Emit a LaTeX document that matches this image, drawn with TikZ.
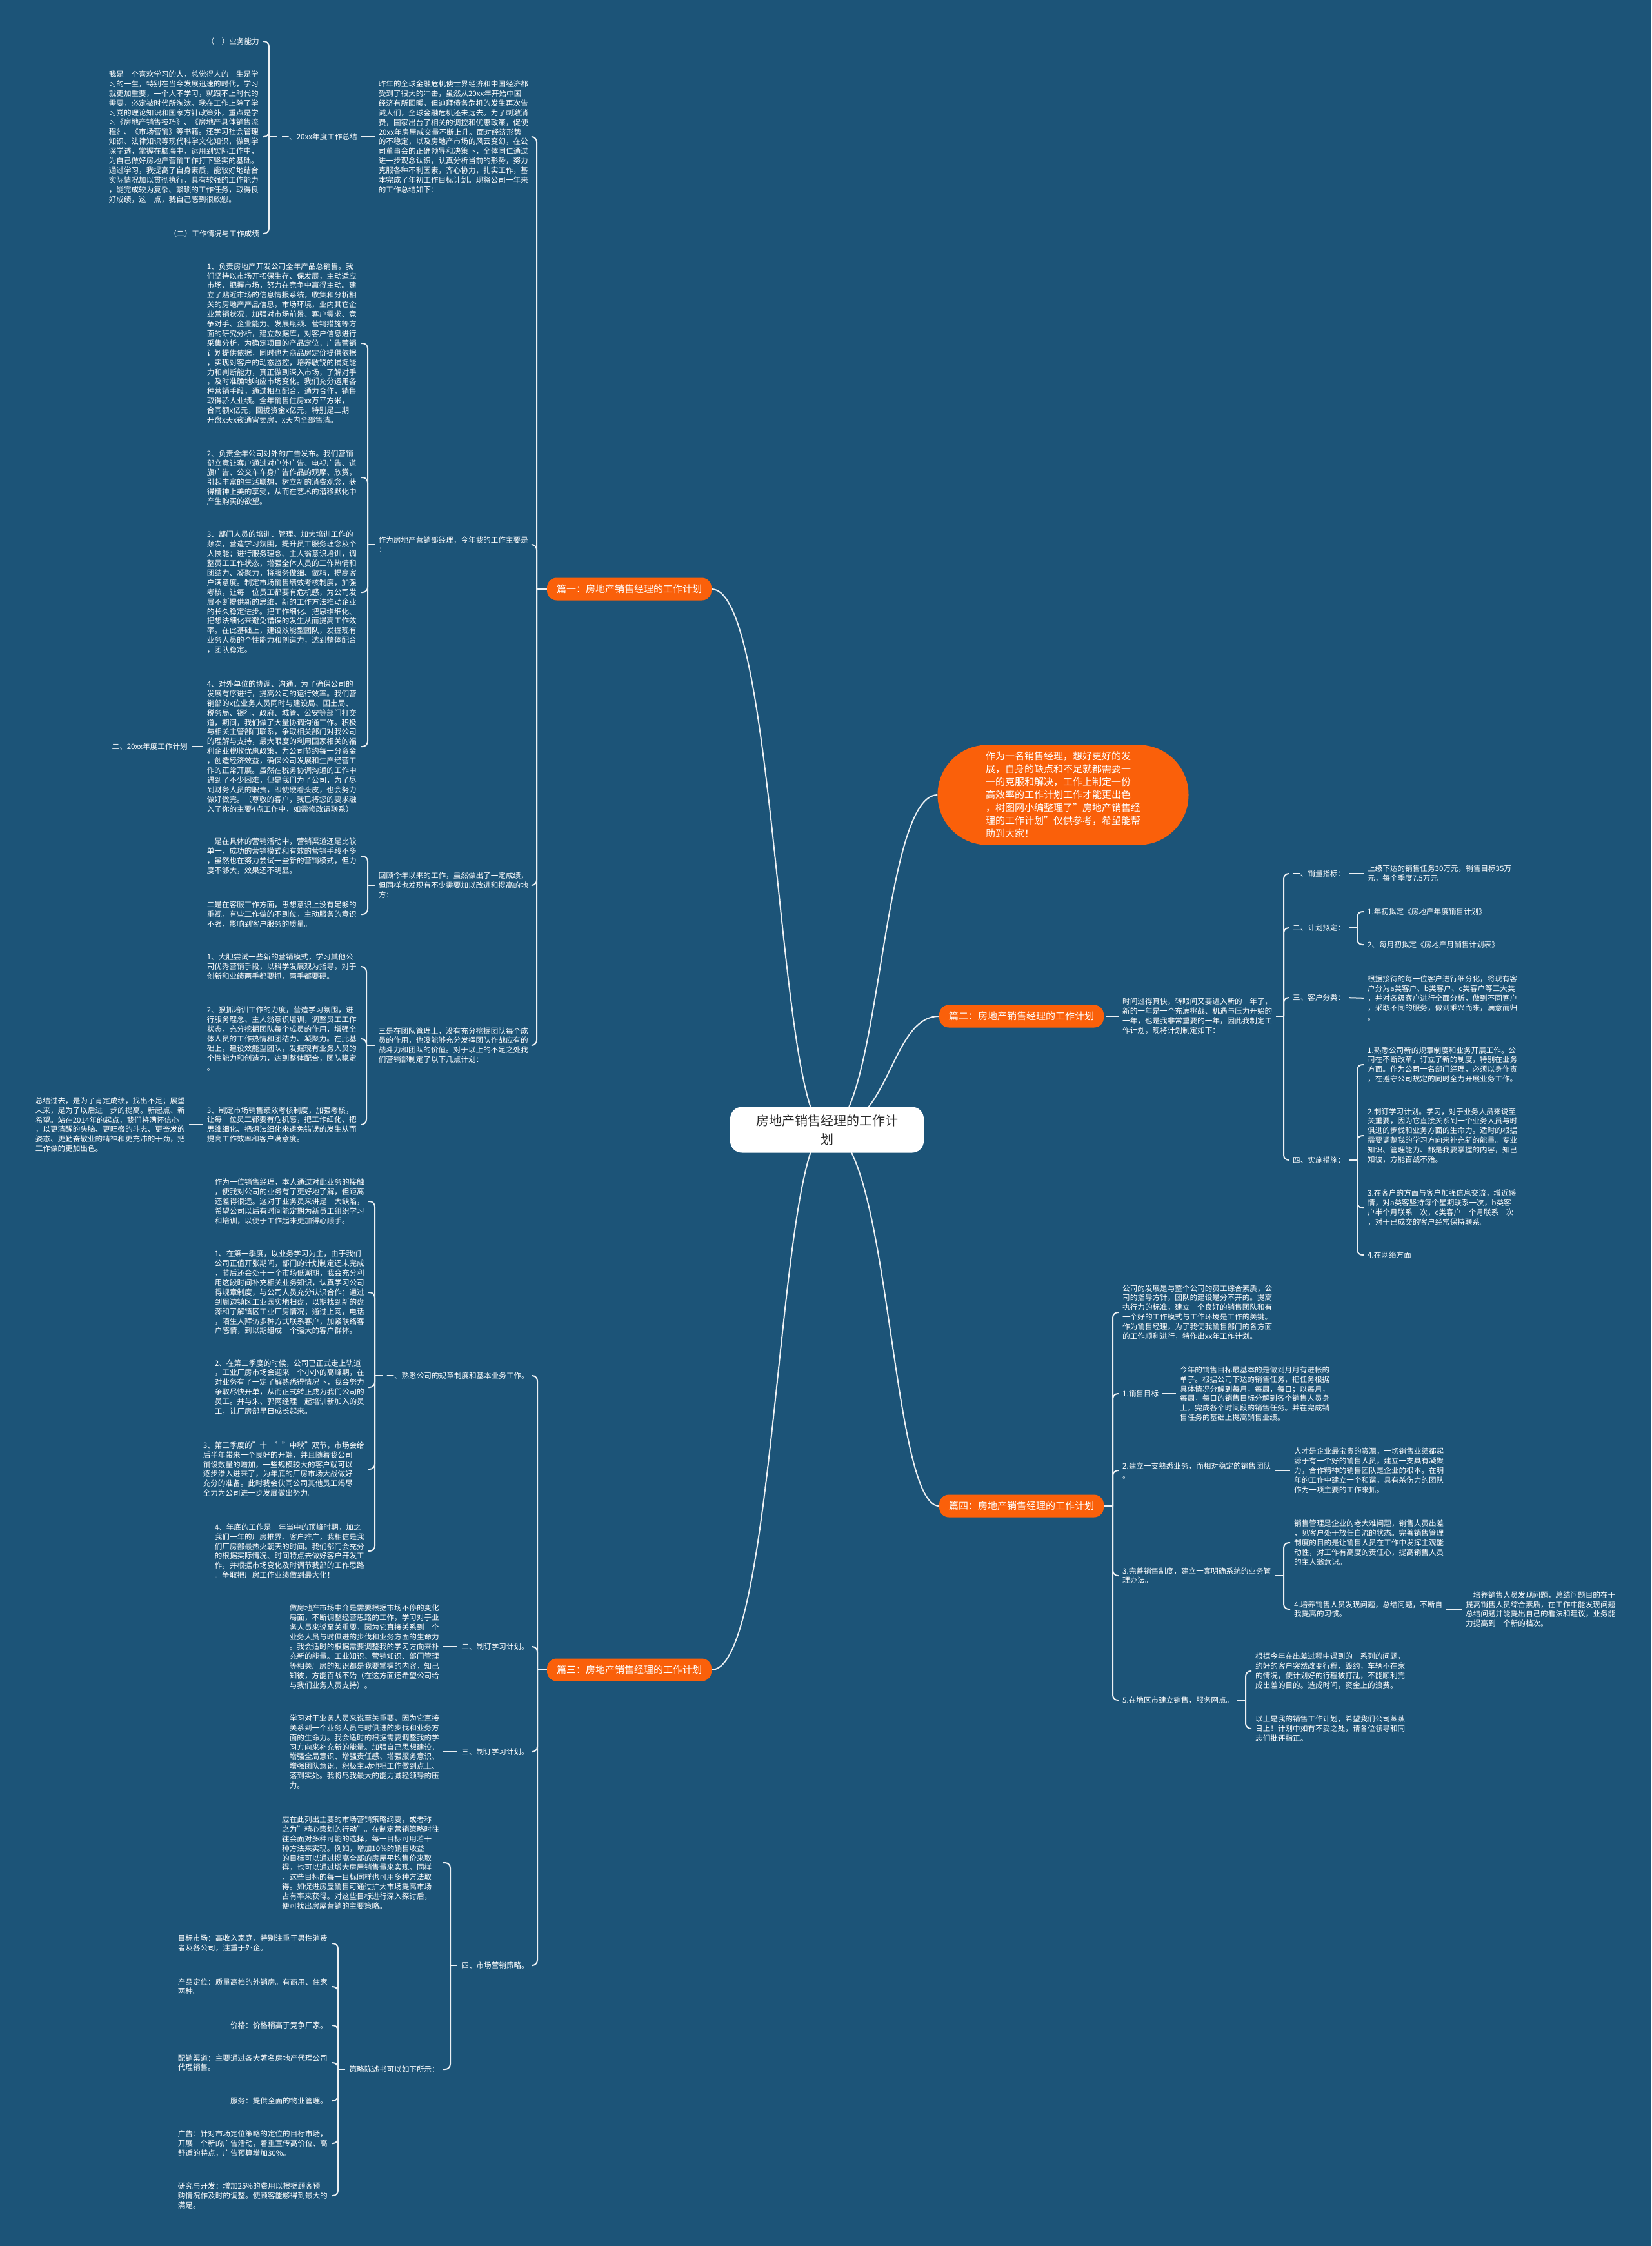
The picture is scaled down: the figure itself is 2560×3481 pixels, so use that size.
\documentclass[tikz,border=0pt]{standalone}
\usepackage{fontspec}
\setmainfont{Noto Sans CJK SC}
\usetikzlibrary{backgrounds}
\definecolor{bgc}{RGB}{28,84,120}
\definecolor{orng}{RGB}{250,96,10}
\definecolor{linec}{RGB}{236,240,243}
\definecolor{roottext}{RGB}{40,40,40}
\begin{document}
\begin{tikzpicture}[x=1pt,y=-1pt,
 txt/.style={inner sep=0pt,align=left,text=white,font=\fontsize{11.6}{14.9}\selectfont},
 L/.style={txt,anchor=east},
 R/.style={txt,anchor=west},
 conn/.style={draw=linec,line width=2pt,rounded corners=8pt},
 ge/.style={shorten >=6pt},
 gs/.style={shorten <=6pt},
 mainbox/.style={fill=orng,rounded corners=15pt,text=white,minimum width=255pt,minimum height=35pt,inner sep=0pt,font=\fontsize{15}{18}\selectfont}]

% ---------- root and callout ----------
\node[fill=white,rounded corners=18pt,minimum width=300pt,minimum height=71pt,inner sep=0pt,text=roottext,align=center,font=\fontsize{20}{29}\selectfont] (root) at (1282,1751) {房地产销售经理的工作计\\划};
\node[fill=orng,rounded corners=77pt,minimum width=389pt,minimum height=155pt,inner sep=0pt,text=white,align=left,font=\fontsize{15}{20}\selectfont] (co) at (1648,1232) {作为一名销售经理，想好更好的发\\展，自身的缺点和不足就都需要一\\一的克服和解决，工作上制定一份\\高效率的工作计划工作才能更出色\\，树图网小编整理了"房地产销售经\\理的工作计划"仅供参考，希望能帮\\助到大家！};

\node[mainbox] (p1) at (975.5,913) {篇一：房地产销售经理的工作计划};
\node[mainbox] (p2) at (1583.5,1575) {篇二：房地产销售经理的工作计划};
\node[mainbox] (p3) at (975.5,2588) {篇三：房地产销售经理的工作计划};
\node[mainbox] (p4) at (1583.5,2334) {篇四：房地产销售经理的工作计划};

% ---------- 篇一 ----------
\node[L] (le) at (819,212) {昨年的全球金融危机使世界经济和中国经济都\\受到了很大的冲击，虽然从20xx年开始中国\\经济有所回暖，但迪拜债务危机的发生再次告\\诫人们，全球金融危机还未远去。为了刺激消\\费，国家出台了相关的调控和优惠政策，促使\\20xx年房屋成交量不断上升。面对经济形势\\的不稳定，以及房地产市场的风云变幻，在公\\司董事会的正确领导和决策下，全体同仁通过\\进一步观念认识，认真分析当前的形势，努力\\克服各种不利因素，齐心协力，扎实工作，基\\本完成了年初工作目标计划。现将公司一年来\\的工作总结如下：};
\node[L] (ld) at (554,212) {一、20xx年度工作总结};
\node[L] (la) at (402,64) {（一）业务能力};
\node[L] (lc) at (401,212) {我是一个喜欢学习的人，总觉得人的一生是学\\习的一生，特别在当今发展迅速的时代，学习\\就更加重要，一个人不学习，就跟不上时代的\\需要，必定被时代所淘汰。我在工作上除了学\\习党的理论知识和国家方针政策外，重点是学\\习《房地产销售技巧》、《房地产具体销售流\\程》、《市场营销》等书籍。还学习社会管理\\知识、法律知识等现代科学文化知识，做到学\\深学透，掌握在脑海中，运用到实际工作中，\\为自己做好房地产营销工作打下坚实的基础。\\通过学习，我提高了自身素质，能较好地结合\\实际情况加以贯彻执行，具有较强的工作能力\\，能完成较为复杂、繁琐的工作任务，取得良\\好成绩，这一点，我自己感到很欣慰。};
\node[L] (lb) at (402,362) {（二）工作情况与工作成绩};

\node[L] (lf) at (819,844) {作为房地产营销部经理，今年我的工作主要是\\：};
\node[L] (pa) at (553,532) {1、负责房地产开发公司全年产品总销售。我\\们坚持以市场开拓保生存、保发展，主动适应\\市场、把握市场，努力在竞争中赢得主动。建\\立了贴近市场的信息情报系统，收集和分析相\\关的房地产产品信息，市场环境，业内其它企\\业营销状况，加强对市场前景、客户需求、竞\\争对手、企业能力、发展瓶颈、营销措施等方\\面的研究分析，建立数据库，对客户信息进行\\采集分析，为确定项目的产品定位，广告营销\\计划提供依据，同时也为商品房定价提供依据\\，实现对客户的动态监控，培养敏锐的捕捉能\\力和判断能力，真正做到深入市场，了解对手\\，及时准确地响应市场变化。我们充分运用各\\种营销手段，通过相互配合，通力合作，销售\\取得骄人业绩。全年销售住房xx万平方米，\\合同额x亿元，回拢资金x亿元，特别是二期\\开盘x天x夜通宵卖房，x天内全部售清。};
\node[L] (pb) at (553,740) {2、负责全年公司对外的广告发布。我们营销\\部立意让客户通过对户外广告、电视广告、道\\旗广告、公交车车身广告作品的观摩、欣赏，\\引起丰富的生活联想，树立新的消费观念，获\\得精神上美的享受，从而在艺术的潜移默化中\\产生购买的欲望。};
\node[L] (pc) at (553,918) {3、部门人员的培训、管理。加大培训工作的\\频次，营造学习氛围，提升员工服务理念及个\\人技能；进行服务理念、主人翁意识培训，调\\整员工工作状态，增强全体人员的工作热情和\\团结力、凝聚力，将服务做细、做精，提高客\\户满意度。制定市场销售绩效考核制度，加强\\考核，让每一位员工都要有危机感，为公司发\\展不断提供新的思维，新的工作方法推动企业\\的长久稳定进步。把工作细化、把思维细化、\\把想法细化来避免错误的发生从而提高工作效\\率。在此基础上，建设效能型团队，发掘现有\\业务人员的个性能力和创造力，达到整体配合\\，团队稳定。};
\node[L] (pd) at (553,1157) {4、对外单位的协调、沟通。为了确保公司的\\发展有序进行，提高公司的运行效率。我们营\\销部的x位业务人员同时与建设局、国土局、\\税务局、银行、政府、城管、公安等部门打交\\道，期间，我们做了大量协调沟通工作。积极\\与相关主管部门联系，争取相关部门对我公司\\的理解与支持，最大限度的利用国家相关的福\\利企业税收优惠政策，为公司节约每一分资金\\，创造经济效益，确保公司发展和生产经营工\\作的正常开展。虽然在税务协调沟通的工作中\\遇到了不少困难，但是我们为了公司，为了尽\\到财务人员的职责，即使硬着头皮，也会努力\\做好做完。（尊敬的客户，我已将您的要求融\\入了你的主要4点工作中，如需修改请联系）};
\node[L] (lg) at (291,1157) {二、20xx年度工作计划};

\node[L] (lh) at (819,1372) {回顾今年以来的工作，虽然做出了一定成绩，\\但同样也发现有不少需要加以改进和提高的地\\方：};
\node[L] (qa) at (553,1327) {一是在具体的营销活动中，营销渠道还是比较\\单一，成功的营销模式和有效的营销手段不多\\，虽然也在努力尝试一些新的营销模式，但力\\度不够大，效果还不明显。};
\node[L] (qb) at (553,1417) {二是在客服工作方面，思想意识上没有足够的\\重视，有些工作做的不到位，主动服务的意识\\不强，影响到客户服务的质量。};

\node[L] (li) at (819,1620) {三是在团队管理上，没有充分挖掘团队每个成\\员的作用，也没能够充分发挥团队作战应有的\\战斗力和团队的价值。对于以上的不足之处我\\们营销部制定了以下几点计划：};
\node[L] (ra) at (553,1498) {1、大胆尝试一些新的营销模式，学习其他公\\司优秀营销手段，以科学发展观为指导，对于\\创新和业绩两手都要抓，两手都要硬。};
\node[L] (rb) at (553,1610) {2、狠抓培训工作的力度，营造学习氛围，进\\行服务理念、主人翁意识培训，调整员工工作\\状态，充分挖掘团队每个成员的作用，增强全\\体人员的工作热情和团结力、凝聚力。在此基\\础上，建设效能型团队，发掘现有业务人员的\\个性能力和创造力，达到整体配合，团队稳定\\。};
\node[L] (rc) at (553,1743) {3、制定市场销售绩效考核制度，加强考核，\\让每一位员工都要有危机感，把工作细化、把\\思维细化、把想法细化来避免错误的发生从而\\提高工作效率和客户满意度。};
\node[L] (lj) at (287,1743) {总结过去，是为了肯定成绩，找出不足；展望\\未来，是为了以后进一步的提高。新起点、新\\希望。站在2014年的起点，我们将满怀信心\\，以更清醒的头脑、更旺盛的斗志、更奋发的\\姿态、更勤奋敬业的精神和更充沛的干劲，把\\工作做的更加出色。};

% ---------- 篇三 ----------
\node[L] (sl) at (820,2132) {一、熟悉公司的规章制度和基本业务工作。};
\node[L] (s0) at (565,1862) {作为一位销售经理，本人通过对此业务的接触\\，使我对公司的业务有了更好地了解，但距离\\还差得很远。这对于业务员来讲是一大缺陷，\\希望公司以后有时间能定期为新员工组织学习\\和培训，以便于工作起来更加得心顺手。};
\node[L] (s1) at (565,2003) {1、在第一季度，以业务学习为主，由于我们\\公司正值开张期间，部门的计划制定还未完成\\，节后还会处于一个市场低潮期，我会充分利\\用这段时间补充相关业务知识，认真学习公司\\得规章制度，与公司人员充分认识合作；通过\\到周边镇区工业园实地扫盘，以期找到新的盘\\源和了解镇区工业厂房情况；通过上网，电话\\，陌生人拜访多种方式联系客户，加紧联络客\\户感情，到以期组成一个强大的客户群体。};
\node[L] (s2) at (565,2150) {2、在第二季度的时候，公司已正式走上轨道\\，工业厂房市场会迎来一个小小的高峰期，在\\对业务有了一定了解熟悉得情况下，我会努力\\争取尽快开单，从而正式转正成为我们公司的\\员工。并与朱、郭两经理一起培训新加入的员\\工，让厂房部早日成长起来。};
\node[L] (s3) at (565,2277) {3、第三季度的"十一""中秋"双节，市场会给\\后半年带来一个良好的开端，并且随着我公司\\铺设数量的增加，一些规模较大的客户就可以\\逐步渗入进来了，为年底的厂房市场大战做好\\充分的准备。此时我会伙同公司其他员工竭尽\\全力为公司进一步发展做出努力。};
\node[L] (s4) at (565,2404) {4、年底的工作是一年当中的顶峰时期，加之\\我们一年的厂房推界、客户推广，我相信是我\\们厂房部最热火朝天的时间。我们部门会充分\\的根据实际情况、时间特点去做好客户开发工\\作，并根据市场变化及时调节我部的工作思路\\。争取把厂房工作业绩做到最大化！};

\node[L] (tl) at (820,2552) {二、制订学习计划。};
\node[L] (tp) at (681,2552) {做房地产市场中介是需要根据市场不停的变化\\局面，不断调整经营思路的工作，学习对于业\\务人员来说至关重要，因为它直接关系到一个\\业务人员与时俱进的步伐和业务方面的生命力\\。我会适时的根据需要调整我的学习方向来补\\充新的能量。工业知识、营销知识、部门管理\\等相关厂房的知识都是我要掌握的内容，知己\\知彼，方能百战不殆（在这方面还希望公司给\\与我们业务人员支持）。};
\node[L] (ul) at (820,2715) {三、制订学习计划。};
\node[L] (up) at (681,2715) {学习对于业务人员来说至关重要，因为它直接\\关系到一个业务人员与时俱进的步伐和业务方\\面的生命力。我会适时的根据需要调整我的学\\习方向来补充新的能量。加强自己思想建设，\\增强全局意识、增强责任感、增强服务意识、\\增强团队意识。积极主动地把工作做到点上、\\落到实处。我将尽我最大的能力减轻领导的压\\力。};
\node[L] (vl) at (820,3046) {四、市场营销策略。};
\node[L] (vp) at (681,2887) {应在此列出主要的市场营销策略纲要，或者称\\之为"精心策划的行动"。在制定营销策略时往\\往会面对多种可能的选择，每一目标可用若干\\种方法来实现。例如，增加10\%的销售收益\\的目标可以通过提高全部的房屋平均售价来取\\得，也可以通过增大房屋销售量来实现。同样\\，这些目标的每一目标同样也可用多种方法取\\得。如促进房屋销售可通过扩大市场提高市场\\占有率来获得。对这些目标进行深入探讨后，\\便可找出房屋营销的主要策略。};
\node[L] (wl) at (681,3207) {策略陈述书可以如下所示：};
\node[L] (w1) at (508,3012) {目标市场：高收入家庭，特别注重于男性消费\\者及各公司，注重于外企。};
\node[L] (w2) at (508,3079) {产品定位：质量高档的外销房。有商用、住家\\两种。};
\node[L] (w3) at (508,3139) {价格：价格稍高于竞争厂家。};
\node[L] (w4) at (508,3197) {配销渠道：主要通过各大著名房地产代理公司\\代理销售。};
\node[L] (w5) at (508,3256) {服务：提供全面的物业管理。};
\node[L] (w6) at (508,3322) {广告：针对市场定位策略的定位的目标市场，\\开展一个新的广告活动，着重宣传高价位、高\\舒适的特点，广告预算增加30\%。};
\node[L] (w7) at (508,3403) {研究与开发：增加25\%的费用以根据顾客预\\购情况作及时的调整。使顾客能够得到最大的\\满足。};

% ---------- 篇二 ----------
\node[R] (xp) at (1740,1575) {时间过得真快，转眼间又要进入新的一年了，\\新的一年是一个充满挑战、机遇与压力开始的\\一年，也是我非常重要的一年，因此我制定工\\作计划，现将计划制定如下：};
\node[R] (y1) at (2004,1354) {一、销量指标：};
\node[R] (y1c) at (2120,1354) {上级下达的销售任务30万元，销售目标35万\\元，每个季度7.5万元};
\node[R] (y2) at (2004,1438) {二、计划拟定：};
\node[R] (y2a) at (2120,1413) {1.年初拟定《房地产年度销售计划》};
\node[R] (y2b) at (2120,1464) {2、每月初拟定《房地产月销售计划表》};
\node[R] (y3) at (2004,1546) {三、客户分类：};
\node[R] (y3c) at (2120,1547) {根据接待的每一位客户进行细分化，将现有客\\户分为a类客户、b类客户、c类客户等三大类\\，并对各级客户进行全面分析，做到不同客户\\，采取不同的服务，做到乘兴而来，满意而归\\。};
\node[R] (y4) at (2004,1798) {四、实施措施：};
\node[R] (y4a) at (2120,1650) {1.熟悉公司新的规章制度和业务开展工作。公\\司在不断改革，订立了新的制度，特别在业务\\方面。作为公司一名部门经理，必须以身作责\\，在遵守公司规定的同时全力开展业务工作。};
\node[R] (y4b) at (2120,1760) {2.制订学习计划。学习，对于业务人员来说至\\关重要，因为它直接关系到一个业务人员与时\\俱进的步伐和业务方面的生命力。适时的根据\\需要调整我的学习方向来补充新的能量。专业\\知识、管理能力、都是我要掌握的内容，知己\\知彼，方能百战不殆。};
\node[R] (y4c) at (2120,1872) {3.在客户的方面与客户加强信息交流，增近感\\情，对a类客坚持每个星期联系一次，b类客\\户半个月联系一次，c类客户一个月联系一次\\，对于已成交的客户经常保持联系。};
\node[R] (y4d) at (2120,1945) {4.在网络方面};

% ---------- 篇四 ----------
\node[R] (z0) at (1740,2034) {公司的发展是与整个公司的员工综合素质，公\\司的指导方针，团队的建设是分不开的。提高\\执行力的标准，建立一个良好的销售团队和有\\一个好的工作模式与工作环境是工作的关键。\\作为销售经理，为了我使我销售部门的各方面\\的工作顺利进行，特作出xx年工作计划。};
\node[R] (z1) at (1740,2160) {1.销售目标};
\node[R] (z1c) at (1829,2160) {今年的销售目标最基本的是做到月月有进帐的\\单子。根据公司下达的销售任务，把任务根据\\具体情况分解到每月，每周，每日；以每月，\\每周，每日的销售目标分解到各个销售人员身\\上，完成各个时间段的销售任务。并在完成销\\售任务的基础上提高销售业绩。};
\node[R] (z2) at (1740,2279) {2.建立一支熟悉业务，而相对稳定的销售团队\\。};
\node[R] (z2c) at (2006,2279) {人才是企业最宝贵的资源，一切销售业绩都起\\源于有一个好的销售人员，建立一支具有凝聚\\力，合作精神的销售团队是企业的根本。在明\\年的工作中建立一个和谐，具有杀伤力的团队\\作为一项主要的工作来抓。};
\node[R] (z3) at (1740,2442) {3.完善销售制度，建立一套明确系统的业务管\\理办法。};
\node[R] (z3a) at (2006,2391) {销售管理是企业的老大难问题，销售人员出差\\，见客户处于放任自流的状态。完善销售管理\\制度的目的是让销售人员在工作中发挥主观能\\动性，对工作有高度的责任心，提高销售人员\\的主人翁意识。};
\node[R] (z3b) at (2006,2494) {4.培养销售人员发现问题，总结问题，不断自\\我提高的习惯。};
\node[R] (z3c) at (2272,2494) {\hspace*{11.6pt}培养销售人员发现问题，总结问题目的在于\\提高销售人员综合素质，在工作中能发现问题\\总结问题并能提出自己的看法和建议，业务能\\力提高到一个新的档次。};
\node[R] (z5) at (1740,2635) {5.在地区市建立销售，服务网点。};
\node[R] (z5a) at (1946,2590) {根据今年在出差过程中遇到的一系列的问题，\\约好的客户突然改变行程，毁约，车辆不在家\\的情况，使计划好的行程被打乱，不能顺利完\\成出差的目的。造成时间，资金上的浪费。};
\node[R] (z5b) at (1946,2679) {以上是我的销售工作计划，希望我们公司蒸蒸\\日上！计划中如有不妥之处，请各位领导和同\\志们批评指正。};

\begin{scope}[on background layer]
\fill[bgc] (0,0) rectangle (2560,3481);
% root connectors
\draw[conn] (root.center) .. controls (1205,1751) and (1205,913) .. (p1.east);
\draw[conn] (root.center) .. controls (1205,1751) and (1205,2588) .. (p3.east);
\draw[conn] (root.center) .. controls (1365,1751) and (1365,1232) .. (co.west);
\draw[conn] (root.center) .. controls (1380,1751) and (1380,1575) .. (p2.west);
\draw[conn] (root.center) .. controls (1380,1751) and (1380,2334) .. (p4.west);
% 篇一
\draw[conn] (p1.west) -- (832,913);
\foreach \c in {le,lf,lh,li} \draw[conn,ge] (832,913) |- (\c.east);
\draw[conn,gs,ge] (le.west) -- (ld.east);
\draw[conn,gs] (ld.west) -- (417,212);
\foreach \c in {la,lc,lb} \draw[conn,ge] (417,212) |- (\c.east);
\draw[conn,gs] (lf.west) -- (570,844);
\foreach \c in {pa,pb,pc,pd} \draw[conn,ge] (570,844) |- (\c.east);
\draw[conn,gs,ge] (pd.west) -- (lg.east);
\draw[conn,gs] (lh.west) -- (570,1372);
\foreach \c in {qa,qb} \draw[conn,ge] (570,1372) |- (\c.east);
\draw[conn,gs] (li.west) -- (568,1620);
\foreach \c in {ra,rb,rc} \draw[conn,ge] (568,1620) |- (\c.east);
\draw[conn,gs,ge] (rc.west) -- (lj.east);
% 篇三
\draw[conn] (p3.west) -- (833,2588);
\foreach \c in {sl,tl,ul,vl} \draw[conn,ge] (833,2588) |- (\c.east);
\draw[conn,gs] (sl.west) -- (581,2132);
\foreach \c in {s0,s1,s2,s3,s4} \draw[conn,ge] (581,2132) |- (\c.east);
\draw[conn,gs,ge] (tl.west) -- (tp.east);
\draw[conn,gs,ge] (ul.west) -- (up.east);
\draw[conn,gs] (vl.west) -- (698,3046);
\foreach \c in {vp,wl} \draw[conn,ge] (698,3046) |- (\c.east);
\draw[conn,gs] (wl.west) -- (524,3207);
\foreach \c in {w1,w2,w3,w4,w5,w6,w7} \draw[conn,ge] (524,3207) |- (\c.east);
% 篇二
\draw[conn,shorten <=3pt,ge] (p2.east) -- (xp.west);
\draw[conn,gs] (xp.east) -- (1990,1575);
\foreach \c in {y1,y2,y3,y4} \draw[conn,ge] (1990,1575) |- (\c.west);
\draw[conn,gs,ge] (y1.east) -- (y1c.west);
\draw[conn,gs] (y2.east) -- (2104,1438);
\foreach \c in {y2a,y2b} \draw[conn,ge] (2104,1438) |- (\c.west);
\draw[conn,gs,ge] (y3.east) -- (y3c.west);
\draw[conn,gs] (y4.east) -- (2104,1798);
\foreach \c in {y4a,y4b,y4c,y4d} \draw[conn,ge] (2104,1798) |- (\c.west);
% 篇四
\draw[conn] (p4.east) -- (1725,2334);
\foreach \c in {z0,z1,z2,z3,z5} \draw[conn,ge] (1725,2334) |- (\c.west);
\draw[conn,gs,ge] (z1.east) -- (z1c.west);
\draw[conn,gs,ge] (z2.east) -- (z2c.west);
\draw[conn,gs] (z3.east) -- (1990,2442);
\foreach \c in {z3a,z3b} \draw[conn,ge] (1990,2442) |- (\c.west);
\draw[conn,gs,ge] (z3b.east) -- (z3c.west);
\draw[conn,gs] (z5.east) -- (1931,2635);
\foreach \c in {z5a,z5b} \draw[conn,ge] (1931,2635) |- (\c.west);
\end{scope}
\end{tikzpicture}
\end{document}
